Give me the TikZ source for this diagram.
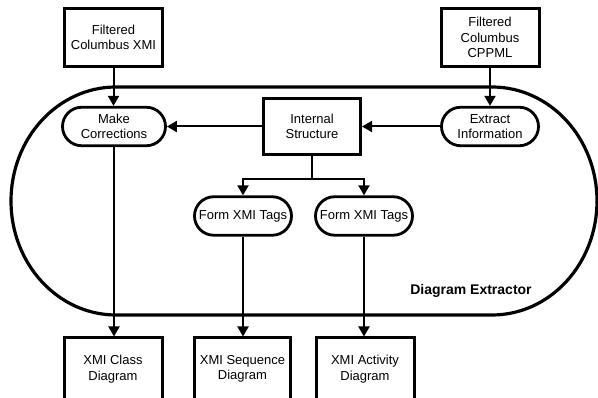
\documentclass[tikz,border=0pt]{standalone}
\usepackage{fontspec}
\setmainfont{Liberation Sans}
\usetikzlibrary{arrows.meta,shapes.misc}
\begin{document}
\begin{tikzpicture}[x=1pt,y=1pt,
  every node/.style={font=\fontsize{13}{15.4}\selectfont, align=center, inner sep=0pt},
  databox/.style={draw, line width=3pt, fill=white, minimum width=98pt, minimum height=58pt},
  procbox/.style={draw, line width=2.8pt, fill=white, rounded rectangle, minimum width=97pt, minimum height=38.5pt},
  conn/.style={line width=2pt, -{Triangle[length=10pt,width=11pt]}},
  plainconn/.style={line width=2pt}]
\useasboundingbox (0,0) rectangle (598,398);
% Diagram Extractor boundary
\draw[line width=3.2pt] (116,311) -- (492,311)
  arc[start angle=90, end angle=-90, x radius=105, y radius=114]
  -- (116,83)
  arc[start angle=270, end angle=90, x radius=105, y radius=114] -- cycle;
\node[font=\fontsize{14}{16}\selectfont\bfseries] (de) at (471,107) {Diagram Extractor};
% nodes
\node[databox] (fxmi) at (113.5,360.5) {Filtered\\Columbus XMI};
\node[databox] (fcpp) at (490,360.5) {Filtered\\Columbus\\CPPML};
\node[procbox, minimum width=103pt] (mc) at (114,271.5) {Make\\Corrections};
\node[databox, minimum width=97pt, minimum height=56pt] (is) at (312,271.5) {Internal\\Structure};
\node[procbox] (ei) at (490,271.5) {Extract\\Information};
\node[procbox] (ft1) at (243,182) {Form XMI Tags};
\node[procbox] (ft2) at (364,182) {Form XMI Tags};
\node[databox, minimum height=62pt] (cls) at (113,29) {XMI Class\\Diagram};
\node[databox, minimum width=96pt, minimum height=62pt] (seq) at (242.5,29) {XMI Sequence\\Diagram};
\node[databox, minimum height=62pt] (act) at (365,29) {XMI Activity\\Diagram};
% connectors
\draw[conn] (fxmi.south) -- (fxmi.south |- mc.north);
\draw[conn] (fcpp.south) -- (ei.north);
\draw[conn] (is.west) -- (mc.east);
\draw[conn] (ei.west) -- (is.east);
\draw[plainconn] (is.south) -- (312,219) coordinate (sp);
\draw[conn] ([xshift=1pt]sp) -| (ft1.north);
\draw[conn] ([xshift=-1pt]sp) -| (ft2.north);
\draw[conn] (mc.south) -- (mc.south |- cls.north);
\draw[conn] (ft1.south) -- (ft1.south |- seq.north);
\draw[conn] (ft2.south) -- (ft2.south |- act.north);
\end{tikzpicture}
\end{document}
